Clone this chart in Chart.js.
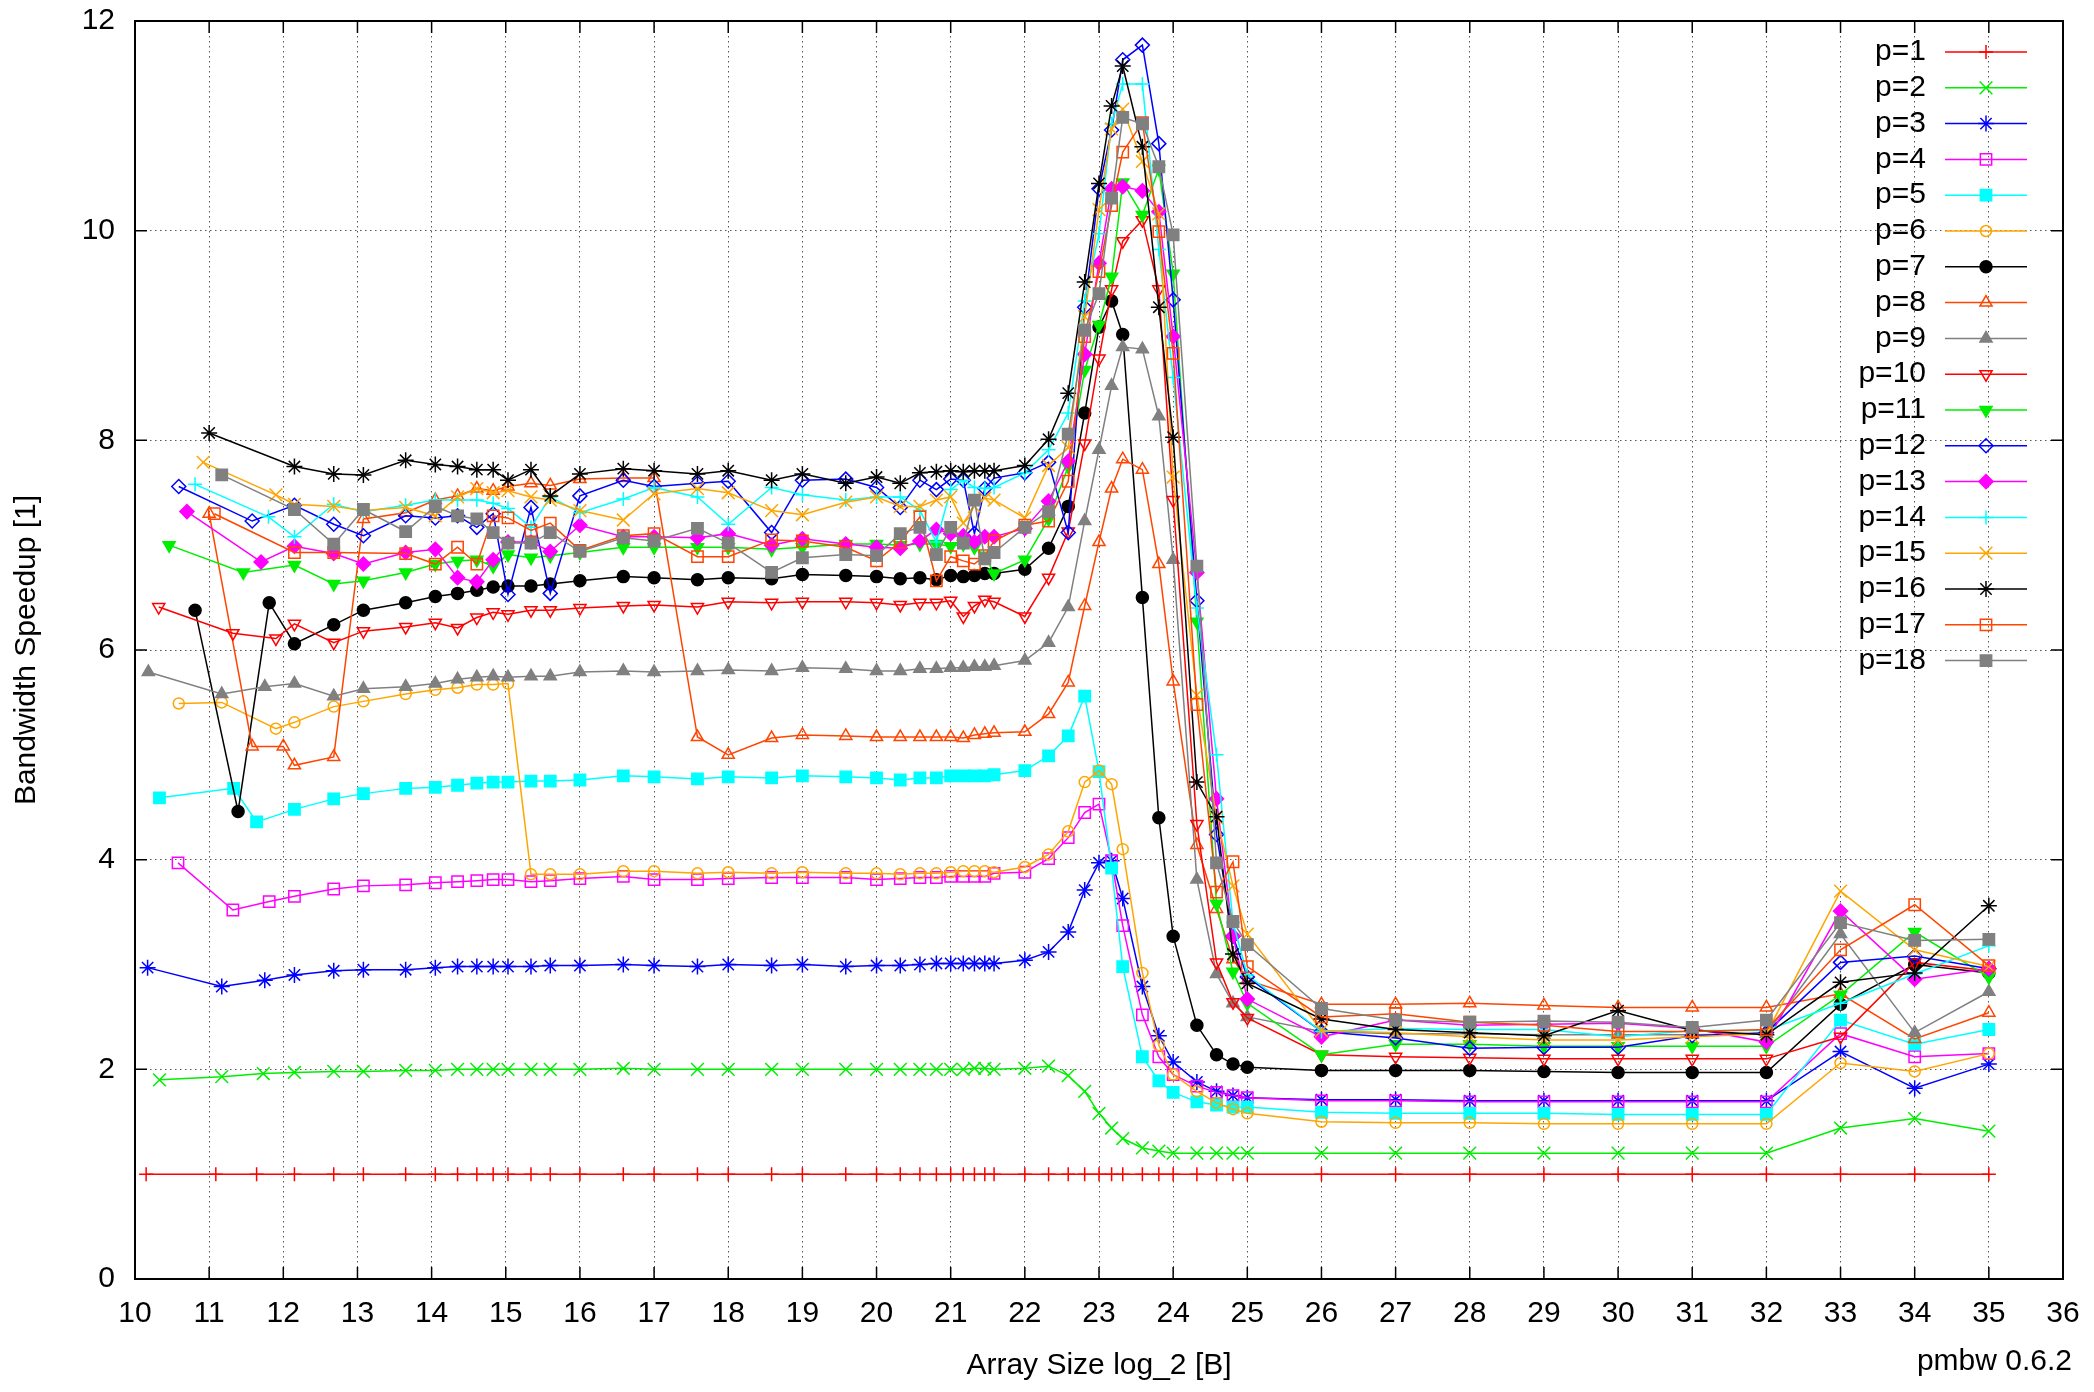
<!DOCTYPE html>
<html>
<head>
<meta charset="utf-8">
<title>Bandwidth Speedup</title>
<script src="https://cdn.jsdelivr.net/npm/chart.js@4.4.1/dist/chart.umd.min.js"></script>
<style>
  html, body { margin: 0; padding: 0; background: #fff; }
  #wrap { width: 2094px; height: 1392px; }
</style>
</head>
<body>
<div id="wrap"><canvas id="myChart" width="2094" height="1392"></canvas></div>
<script>
/* Data ------------------------------------------------------------ */

// shared array sizes (log_2 bytes) from 12 upward
var sizeGrid = [12.15, 12.68, 13.08, 13.65, 14.05, 14.35, 14.61, 14.83, 15.03, 15.34, 15.6, 16, 16.585, 17,
  17.585, 18, 18.585, 19, 19.585, 20, 20.32, 20.585, 20.807, 21, 21.17, 21.32, 21.46, 21.585,
  22, 22.32, 22.585, 22.807, 23, 23.17, 23.32, 23.585, 23.807, 24, 24.32, 24.585, 24.807, 25,
  26, 27, 28, 29, 30, 31, 32, 33, 34, 35];

// first small sizes, they differ per thread count
var p1Head = [10.15, 11.09, 11.64];
var p2Head = [10.33, 11.17, 11.73];
var p3Head = [10.17, 11.17, 11.75];
var p4Head = [10.58, 11.32, 11.81];
var p5Head = [10.33, 11.33, 11.64];
var p6Head = [10.59, 11.17, 11.9];
var p7Head = [10.81, 11.39, 11.81];
var p8Head = [11.0, 11.58, 12.0];
var p9Head = [10.18, 11.17, 11.75];
var p10Head = [10.32, 11.32, 11.9];
var p11Head = [10.46, 11.46];
var p12Head = [10.59, 11.58];
var p13Head = [10.7, 11.7];
var p14Head = [10.81, 11.8];
var p15Head = [10.92, 11.9];
var p16Head = [11.0];
var p17Head = [11.07];
var p18Head = [11.17];

var p1 = [1, 1, 1,
  1, 1, 1, 1, 1, 1, 1, 1, 1, 1, 1, 1, 1, 1,
  1, 1, 1, 1, 1, 1, 1, 1, 1, 1, 1, 1, 1, 1,
  1, 1, 1, 1, 1, 1, 1, 1, 1, 1, 1, 1, 1, 1,
  1, 1, 1, 1, 1, 1, 1, 1, 1, 1];
var p2 = [1.90, 1.93, 1.96,
  1.97, 1.98, 1.98, 1.99, 1.99, 2.00, 2.00, 2.00, 2.00, 2.00, 2.00, 2.00, 2.01, 2.00,
  2.00, 2.00, 2.00, 2.00, 2.00, 2.00, 2.00, 2.00, 2.00, 2.00, 2.00, 2.01, 2.01, 2.00,
  2.01, 2.03, 1.94, 1.79, 1.58, 1.44, 1.34, 1.25, 1.22, 1.20, 1.20, 1.20, 1.20, 1.20,
  1.20, 1.20, 1.20, 1.20, 1.20, 1.20, 1.20, 1.44, 1.53, 1.41];
var p3 = [2.97, 2.79, 2.85,
  2.90, 2.94, 2.95, 2.95, 2.97, 2.98, 2.98, 2.98, 2.98, 2.98, 2.99, 2.99, 3.00, 2.99,
  2.98, 3.00, 2.99, 3.00, 2.98, 2.99, 2.99, 3.00, 3.01, 3.01, 3.01, 3.01, 3.01, 3.01,
  3.04, 3.12, 3.31, 3.71, 3.97, 3.99, 3.63, 2.79, 2.32, 2.07, 1.88, 1.79, 1.75, 1.73,
  1.71, 1.71, 1.70, 1.70, 1.70, 1.70, 1.70, 2.17, 1.82, 2.05];
var p4 = [3.97, 3.52, 3.60,
  3.65, 3.72, 3.75, 3.76, 3.78, 3.79, 3.80, 3.81, 3.81, 3.79, 3.80, 3.82, 3.84, 3.81,
  3.81, 3.82, 3.83, 3.83, 3.83, 3.81, 3.82, 3.83, 3.83, 3.84, 3.84, 3.84, 3.84, 3.87,
  3.88, 4.01, 4.21, 4.45, 4.53, 3.99, 3.37, 2.52, 2.12, 1.95, 1.84, 1.78, 1.75, 1.73,
  1.70, 1.70, 1.69, 1.69, 1.69, 1.69, 1.69, 2.34, 2.12, 2.15];
var p5 = [4.59, 4.68, 4.36,
  4.48, 4.58, 4.63, 4.68, 4.69, 4.71, 4.73, 4.74, 4.74, 4.75, 4.75, 4.76, 4.80, 4.79,
  4.77, 4.79, 4.78, 4.80, 4.79, 4.78, 4.76, 4.78, 4.78, 4.80, 4.80, 4.80, 4.80, 4.81,
  4.85, 4.99, 5.18, 5.56, 4.84, 3.92, 2.98, 2.12, 1.89, 1.78, 1.69, 1.66, 1.64, 1.64,
  1.59, 1.58, 1.58, 1.58, 1.57, 1.57, 1.57, 2.47, 2.24, 2.38];
var p6 = [5.49, 5.50, 5.25,
  5.31, 5.46, 5.51, 5.58, 5.62, 5.64, 5.67, 5.67, 5.68, 3.86, 3.86, 3.86, 3.89, 3.89,
  3.87, 3.88, 3.87, 3.88, 3.87, 3.87, 3.86, 3.87, 3.87, 3.88, 3.89, 3.89, 3.89, 3.88,
  3.93, 4.05, 4.27, 4.74, 4.85, 4.72, 4.10, 2.92, 2.23, 1.95, 1.79, 1.68, 1.62, 1.58,
  1.50, 1.49, 1.49, 1.48, 1.48, 1.48, 1.48, 2.06, 1.98, 2.15];
var p7 = [6.38, 4.46, 6.45,
  6.06, 6.24, 6.38, 6.45, 6.51, 6.54, 6.57, 6.60, 6.61, 6.61, 6.63, 6.66, 6.70, 6.69,
  6.67, 6.69, 6.68, 6.72, 6.71, 6.70, 6.68, 6.69, 6.67, 6.71, 6.70, 6.71, 6.73, 6.73,
  6.77, 6.97, 7.37, 8.26, 9.08, 9.33, 9.01, 6.50, 4.40, 3.27, 2.42, 2.14, 2.05, 2.02,
  1.99, 1.99, 1.99, 1.98, 1.97, 1.97, 1.97, 2.62, 3.00, 2.92];
var p8 = [7.30, 5.08, 5.08,
  4.90, 4.98, 7.25, 7.31, 7.43, 7.47, 7.54, 7.52, 7.56, 7.59, 7.57, 7.63, 7.64, 7.64,
  5.17, 5.00, 5.16, 5.19, 5.18, 5.17, 5.17, 5.17, 5.17, 5.17, 5.16, 5.19, 5.20, 5.21,
  5.22, 5.39, 5.69, 6.42, 7.03, 7.54, 7.82, 7.72, 6.82, 5.70, 4.14, 3.53, 3.05, 2.85,
  2.62, 2.62, 2.63, 2.61, 2.59, 2.59, 2.59, 2.72, 2.29, 2.54];
var p9 = [5.79, 5.58, 5.65,
  5.68, 5.56, 5.63, 5.65, 5.68, 5.72, 5.74, 5.75, 5.74, 5.75, 5.75, 5.79, 5.80, 5.79,
  5.80, 5.81, 5.80, 5.83, 5.82, 5.80, 5.80, 5.82, 5.82, 5.83, 5.83, 5.84, 5.84, 5.85,
  5.90, 6.07, 6.41, 7.23, 7.91, 8.52, 8.89, 8.87, 8.23, 6.86, 3.81, 2.91, 2.63, 2.50,
  2.36, 2.34, 2.34, 2.33, 2.33, 2.33, 2.34, 3.29, 2.35, 2.74];
var p10 = [6.41, 6.16, 6.11,
  6.25, 6.07, 6.18, 6.22, 6.26, 6.21, 6.31, 6.36, 6.34, 6.38, 6.38, 6.40, 6.42, 6.43,
  6.41, 6.46, 6.45, 6.46, 6.46, 6.45, 6.43, 6.45, 6.45, 6.47, 6.32, 6.42, 6.48, 6.46,
  6.32, 6.69, 7.13, 7.97, 8.78, 9.44, 9.90, 10.10, 9.44, 7.43, 4.34, 3.02, 2.64, 2.49,
  2.14, 2.12, 2.11, 2.10, 2.10, 2.10, 2.10, 2.31, 3.02, 2.94];
var p11 = [7.00, 6.74,
  6.81, 6.63, 6.66, 6.74, 6.82, 6.85, 6.86, 6.80, 6.91, 6.88, 6.90, 6.93, 6.98, 6.98,
  6.98, 6.98, 6.96, 6.98, 7.01, 7.01, 7.00, 7.01, 7.01, 6.99, 7.01, 6.98, 6.90, 6.73,
  6.86, 7.25, 7.75, 8.67, 9.10, 9.56, 10.46, 10.15, 10.59, 9.59, 6.27, 3.58, 2.93, 2.63,
  2.14, 2.24, 2.24, 2.22, 2.22, 2.22, 2.22, 2.71, 3.31, 2.88];
var p12 = [7.56, 7.23,
  7.38, 7.20, 7.09, 7.28, 7.26, 7.28, 7.17, 7.30, 6.53, 7.36, 6.54, 7.47, 7.62, 7.56,
  7.59, 7.61, 7.12, 7.62, 7.63, 7.55, 7.36, 7.62, 7.53, 7.63, 7.62, 7.11, 7.54, 7.64,
  7.69, 7.79, 7.12, 9.27, 10.40, 10.96, 11.63, 11.77, 10.83, 9.34, 6.47, 4.24, 3.27, 2.88,
  2.36, 2.30, 2.20, 2.21, 2.21, 2.32, 2.35, 3.02, 3.08, 2.96];
var p13 = [7.32, 6.84,
  6.99, 6.92, 6.82, 6.93, 6.96, 6.69, 6.65, 6.86, 7.03, 7.03, 6.94, 7.19, 7.08, 7.08,
  7.07, 7.11, 7.00, 7.06, 7.01, 6.98, 6.97, 7.04, 7.15, 7.11, 7.09, 7.03, 7.08, 7.08,
  7.16, 7.42, 7.80, 8.82, 9.69, 10.40, 10.42, 10.38, 10.18, 8.99, 6.74, 4.58, 3.27, 2.67,
  2.31, 2.47, 2.42, 2.43, 2.44, 2.39, 2.26, 3.51, 2.86, 2.96];
var p14 = [7.58, 7.27,
  7.08, 7.39, 7.32, 7.38, 7.43, 7.43, 7.43, 7.40, 7.35, 7.17, 7.46, 7.31, 7.44, 7.55,
  7.46, 7.20, 7.55, 7.48, 7.43, 7.46, 7.46, 7.33, 7.03, 7.53, 7.62, 7.55, 7.54, 7.55,
  7.69, 7.91, 8.26, 9.33, 9.97, 11.02, 11.40, 11.40, 9.82, 8.60, 6.40, 5.00, 3.40, 2.90,
  2.36, 2.39, 2.38, 2.38, 2.31, 2.37, 2.37, 2.63, 2.91, 3.18];
var p15 = [7.79, 7.48,
  7.39, 7.37, 7.33, 7.36, 7.28, 7.46, 7.54, 7.50, 7.52, 7.46, 7.43, 7.33, 7.24, 7.49,
  7.54, 7.50, 7.33, 7.29, 7.41, 7.46, 7.37, 7.37, 7.43, 7.46, 7.21, 7.37, 7.45, 7.43,
  7.26, 7.76, 7.93, 9.18, 10.20, 10.97, 11.16, 10.66, 10.16, 7.65, 5.57, 4.40, 3.75, 3.29,
  2.37, 2.35, 2.31, 2.28, 2.28, 2.31, 2.34, 3.70, 3.14, 2.98];
var p16 = [8.07,
  7.75, 7.68, 7.67, 7.81, 7.77, 7.75, 7.72, 7.72, 7.62, 7.72, 7.47, 7.68, 7.73, 7.71,
  7.68, 7.71, 7.62, 7.68, 7.59, 7.65, 7.59, 7.69, 7.70, 7.71, 7.70, 7.71, 7.71, 7.71,
  7.76, 8.01, 8.45, 9.51, 10.45, 11.19, 11.57, 10.80, 9.27, 8.03, 4.74, 4.41, 3.10, 2.82,
  2.48, 2.38, 2.35, 2.32, 2.56, 2.37, 2.33, 2.83, 2.92, 3.56];
var p17 = [7.30,
  6.93, 6.93, null, 6.92, 6.82, 6.98, 6.82, 7.28, 7.26, 7.14, 7.21, 6.95, 7.09, 7.11,
  6.89, 6.89, 7.05, 7.04, 6.98, 6.85, 7.03, 7.27, 6.66, 6.89, 6.85, 6.82, 6.90, 7.04,
  7.19, 7.23, 7.61, 8.99, 9.61, 10.24, 10.75, 11.03, 9.99, 8.83, 5.48, 3.69, 3.98, 2.98,
  2.50, 2.53, 2.45, 2.42, 2.36, 2.36, 2.38, 3.14, 3.57, 2.99];
var p18 = [7.67,
  7.34, 7.01, 7.34, 7.13, 7.37, 7.28, 7.25, 7.12, 7.02, 7.02, 7.12, 6.94, 7.07, 7.04,
  7.16, 7.02, 6.74, 6.88, 6.91, 6.90, 7.11, 7.17, 6.91, 7.17, 7.02, 7.43, 6.87, 6.93,
  7.17, 7.32, 8.06, 9.05, 9.40, 10.31, 11.08, 11.02, 10.61, 9.96, 6.80, 3.97, 3.41, 3.19,
  2.58, 2.47, 2.45, 2.46, 2.45, 2.40, 2.47, 3.40, 3.23, 3.24];

var seriesNames = ["p=1", "p=2", "p=3", "p=4", "p=5", "p=6", "p=7", "p=8", "p=9",
  "p=10", "p=11", "p=12", "p=13", "p=14", "p=15", "p=16", "p=17", "p=18"];
var seriesHeads = [p1Head, p2Head, p3Head, p4Head, p5Head, p6Head, p7Head, p8Head, p9Head,
  p10Head, p11Head, p12Head, p13Head, p14Head, p15Head, p16Head, p17Head, p18Head];
var seriesValues = [p1, p2, p3, p4, p5, p6, p7, p8, p9, p10, p11, p12, p13, p14, p15, p16, p17, p18];

var xTicks = [10, 11, 12, 13, 14, 15, 16, 17, 18, 19, 20, 21, 22, 23, 24, 25, 26, 27, 28, 29, 30, 31, 32, 33, 34, 35, 36];
var yTicks = [0, 2, 4, 6, 8, 10, 12];

/* Styles (gnuplot look) -------------------------------------------- */

var FONT = "'Liberation Sans', Arial, Helvetica, sans-serif";
var colors = ["#ff0000", "#00ee00", "#0000ff", "#ff00ff", "#00ffff", "#ffa500", "#000000", "#ff4500", "#808080"];
// [pointStyle, radius, filled, rotation]
var markers = [
  ["cross", 7, false, 0], ["crossRot", 9, false, 0], ["star", 8, false, 0],
  ["rect", 8, false, 0], ["rect", 8, true, 0], ["circle", 5.5, false, 0],
  ["circle", 6, true, 0], ["triangle", 7, false, 0], ["triangle", 7, true, 0],
  ["triangle", 7, false, 180], ["triangle", 7, true, 180], ["rectRot", 7, false, 0],
  ["rectRot", 7, true, 0], ["cross", 7, false, 0], ["crossRot", 9, false, 0],
  ["star", 8, false, 0], ["rect", 8, false, 0], ["rect", 8, true, 0]
];

var datasets = seriesNames.map(function(name, i) {
  var xs = seriesHeads[i].concat(sizeGrid);
  var col = colors[i % colors.length];
  var m = markers[i];
  return {
    label: name,
    data: xs.map(function(x, k) { return {x: x, y: seriesValues[i][k]}; }),
    borderColor: col,
    backgroundColor: col,
    borderWidth: 1.5,
    pointStyle: m[0],
    pointRadius: m[1],
    pointRotation: m[3],
    pointBorderColor: col,
    pointBackgroundColor: m[2] ? col : "rgba(0,0,0,0)",
    pointBorderWidth: 1.5,
    spanGaps: true,
    tension: 0,
    fill: false,
    order: seriesNames.length - i
  };
});

/* Plugins ---------------------------------------------------------- */

var framePlugin = {
  id: "frame",
  afterDatasetsDraw: function(chart) {
    var ctx = chart.ctx, a = chart.chartArea;
    var xs = chart.scales.x, ys = chart.scales.y;
    ctx.save();
    ctx.strokeStyle = "#000";
    ctx.lineWidth = 2;
    ctx.strokeRect(a.left, a.top, a.right - a.left, a.bottom - a.top);
    ctx.beginPath();
    xTicks.forEach(function(v) {
      var px = xs.getPixelForValue(v);
      ctx.moveTo(px, a.bottom); ctx.lineTo(px, a.bottom - 12);
      ctx.moveTo(px, a.top); ctx.lineTo(px, a.top + 12);
    });
    yTicks.forEach(function(v) {
      var py = ys.getPixelForValue(v);
      ctx.moveTo(a.left, py); ctx.lineTo(a.left + 12, py);
      ctx.moveTo(a.right, py); ctx.lineTo(a.right - 12, py);
    });
    ctx.lineWidth = 1.5;
    ctx.stroke();
    ctx.restore();
  }
};

var keyPlugin = {
  id: "gnukey",
  afterDraw: function(chart) {
    var ctx = chart.ctx;
    ctx.save();
    ctx.font = "30px " + FONT;
    ctx.textBaseline = "middle";
    chart.data.datasets.forEach(function(ds, i) {
      var y = 52 + i * 35.8;
      ctx.fillStyle = "#000";
      ctx.textAlign = "right";
      ctx.fillText(ds.label, 1926, y);
      ctx.strokeStyle = ds.borderColor;
      ctx.lineWidth = 1.5;
      ctx.beginPath();
      ctx.moveTo(1945, y); ctx.lineTo(2027, y);
      ctx.stroke();
      ctx.fillStyle = ds.pointBackgroundColor;
      ctx.strokeStyle = ds.pointBorderColor;
      Chart.helpers.drawPoint(ctx, {
        pointStyle: ds.pointStyle, radius: ds.pointRadius,
        rotation: ds.pointRotation, borderWidth: 1.5
      }, 1986, y);
    });
    // version note bottom right
    ctx.fillStyle = "#000";
    ctx.textAlign = "right";
    ctx.fillText("pmbw 0.6.2", 2072, 1362);
    ctx.restore();
  }
};

/* Chart ------------------------------------------------------------ */

var ctx = document.getElementById("myChart").getContext("2d");
var myChart = new Chart(ctx, {
  type: "line",
  data: { datasets: datasets },
  options: {
    responsive: false,
    animation: false,
    devicePixelRatio: 1,
    events: [],
    layout: { padding: { top: 21, right: 31, bottom: 0, left: 0 } },
    plugins: { legend: { display: false }, tooltip: { enabled: false } },
    scales: {
      x: {
        type: "linear",
        min: 10, max: 36,
        afterFit: function(scale) {
          scale.height = 113;
          scale.paddingLeft = 0;
          scale.paddingRight = 0;
        },
        afterBuildTicks: function(scale) { scale.ticks = xTicks.map(function(v) { return {value: v}; }); },
        ticks: { color: "#000", padding: 17, autoSkip: false, maxRotation: 0, font: { family: FONT, size: 30 } },
        grid: { color: "#555", lineWidth: 1, drawTicks: false },
        border: { display: false, dash: [1.5, 3.5] },
        title: { display: true, text: "Array Size log_2 [B]", color: "#000",
                 font: { family: FONT, size: 30 }, padding: { top: 8, bottom: 8 } }
      },
      y: {
        min: 0, max: 12,
        afterFit: function(scale) {
          scale.width = 135;
          scale.paddingTop = 0;
          scale.paddingBottom = 0;
        },
        afterBuildTicks: function(scale) { scale.ticks = yTicks.map(function(v) { return {value: v}; }); },
        ticks: { color: "#000", padding: 20, font: { family: FONT, size: 30 } },
        grid: { color: "#555", lineWidth: 1, drawTicks: false },
        border: { display: false, dash: [1.5, 3.5] },
        title: { display: true, text: "Bandwidth Speedup [1]", color: "#000",
                 font: { family: FONT, size: 30 }, padding: { top: 9, bottom: 9 } }
      }
    }
  },
  plugins: [framePlugin, keyPlugin]
});
</script>
</body>
</html>
